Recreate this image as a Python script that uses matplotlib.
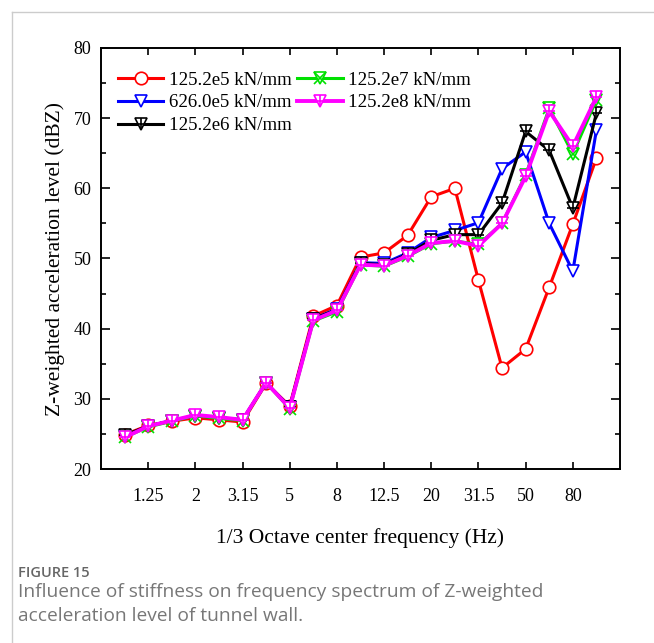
import matplotlib
matplotlib.use("Agg")
import matplotlib.pyplot as plt
from matplotlib.lines import Line2D
from matplotlib.legend_handler import HandlerTuple

freqs = ["1", "1.25", "1.6", "2", "2.5", "3.15", "4", "5", "6.3", "8", "10",
         "12.5", "16", "20", "25", "31.5", "40", "50", "63", "80", "100"]
tick_labels = ["1.25", "2", "3.15", "5", "8", "12.5", "20", "31.5", "50", "80"]

s_red = [24.9, 26.2, 26.8, 27.3, 27.0, 26.7, 32.2, 29.0, 41.8, 43.3, 50.2, 50.8,
         53.3, 58.8, 60.0, 46.9, 34.4, 37.1, 45.9, 54.9, 64.3]
s_blue = [24.7, 26.1, 26.9, 27.6, 27.3, 27.0, 32.3, 28.8, 41.4, 42.8, 49.4, 49.3,
          50.8, 53.0, 54.0, 55.1, 62.8, 65.2, 55.0, 48.2, 68.3]
s_black = [24.8, 26.1, 26.9, 27.6, 27.3, 27.0, 32.3, 28.8, 41.4, 42.7, 49.3, 49.1,
           50.6, 52.6, 53.4, 53.4, 57.9, 68.1, 65.4, 57.2, 70.7]
s_green = [24.5, 26.0, 26.8, 27.6, 27.2, 26.9, 32.3, 28.6, 41.1, 42.4, 49.1, 48.9,
           50.3, 52.1, 52.5, 52.0, 55.0, 61.9, 71.4, 64.9, 72.6]
s_magenta = [24.5, 26.1, 26.9, 27.7, 27.4, 27.0, 32.3, 28.7, 41.2, 42.6, 49.1, 49.0,
             50.4, 52.2, 52.5, 51.8, 55.0, 61.7, 71.0, 66.0, 73.0]
labels = ["125.2e5 kN/mm", "626.0e5 kN/mm", "125.2e6 kN/mm",
          "125.2e7 kN/mm", "125.2e8 kN/mm"]

serif = ["Liberation Serif", "DejaVu Serif"]
x = list(range(len(freqs)))

fig = plt.figure(figsize=(6.54, 6.43), dpi=100)
ax = fig.add_axes([101/654, 1-469/643, (620-101)/654, (469-48)/643])

lw = 2.2
ms = 9
def draw(vals, color, extra=None, lwid=lw, z=2):
    ax.plot(x, vals, color=color, lw=lwid, marker="o" if extra == "circle" else "v",
            ms=ms, mfc="white", mec=color, mew=1.2, zorder=z)
    if extra in ("+", "x"):
        ax.plot(x, vals, ls="none", marker=extra, ms=ms, mec=color, mew=1.2, zorder=z)

draw(s_red, "#ff0000", "circle", z=2)
draw(s_blue, "#0000ff", None, z=3)
draw(s_black, "#000000", "+", z=4)
draw(s_green, "#00e000", "x", z=5)
draw(s_magenta, "#ff00ff", "+", lwid=2.8, z=6)

ax.set_xlim(-1, 21)
ax.set_ylim(20, 80)
ax.set_yticks(range(20, 81, 10))
ax.set_yticks(range(25, 80, 10), minor=True)
tick_pos = [freqs.index(t) for t in tick_labels]
ax.set_xticks(tick_pos)
ax.set_xticklabels(tick_labels)
ax.tick_params(axis="both", which="both", direction="in", top=True, right=True,
               width=1.2, labelsize=13)
ax.tick_params(axis="y", which="major", length=6.5, pad=7)
ax.tick_params(axis="y", which="minor", length=3.5)
ax.tick_params(axis="x", which="major", length=5, pad=14)
for lab in ax.get_xticklabels() + ax.get_yticklabels():
    lab.set_family(serif)
for sp in ax.spines.values():
    sp.set_linewidth(1.4)

ax.set_xlabel("1/3 Octave center frequency (Hz)", family=serif, fontsize=15.5, labelpad=16)
ax.set_ylabel("Z-weighted acceleration level (dBZ)", family=serif, fontsize=15.5, labelpad=6)

def h(color, m, extra=None, lwid=lw):
    base = Line2D([], [], color=color, lw=lwid, marker=m, ms=ms, mfc="white", mec=color, mew=1.2)
    if extra:
        return (base, Line2D([], [], ls="none", marker=extra, ms=ms, mec=color, mew=1.2))
    return (base,)

handles = [h("#ff0000", "o"), h("#0000ff", "v"), h("#000000", "v", "+"),
           h("#00e000", "v", "x"), h("#ff00ff", "v", "+", 2.8)]
leg = ax.legend(handles, labels, ncol=2, loc="upper left", bbox_to_anchor=(0.0, 0.985),
                frameon=False, prop={"family": serif, "size": 13.6},
                handler_map={tuple: HandlerTuple(ndivide=1)},
                handlelength=2.4, handletextpad=0.3, columnspacing=0.3,
                labelspacing=0.3, borderaxespad=0.5)

# page frame
fig.add_artist(Line2D([12/654, 12/654], [0, 1-12/643], color="#cccccc", lw=1.0))
fig.add_artist(Line2D([12/654, 1], [1-12/643, 1-12/643], color="#cccccc", lw=1.0))

fig.text(18/654, 1-577/643, "FIGURE 15", family=["Open Sans", "DejaVu Sans"],
         fontsize=10.5, color="#666666", fontweight="semibold", va="baseline")
fig.text(18/654, 1-597/643, "Influence of stiffness on frequency spectrum of Z-weighted",
         family=["Open Sans", "DejaVu Sans"], fontsize=13.8, color="#777777", va="baseline")
fig.text(18/654, 1-621/643, "acceleration level of tunnel wall.",
         family=["Open Sans", "DejaVu Sans"], fontsize=13.8, color="#777777", va="baseline")

fig.savefig("out.png", dpi=100)
